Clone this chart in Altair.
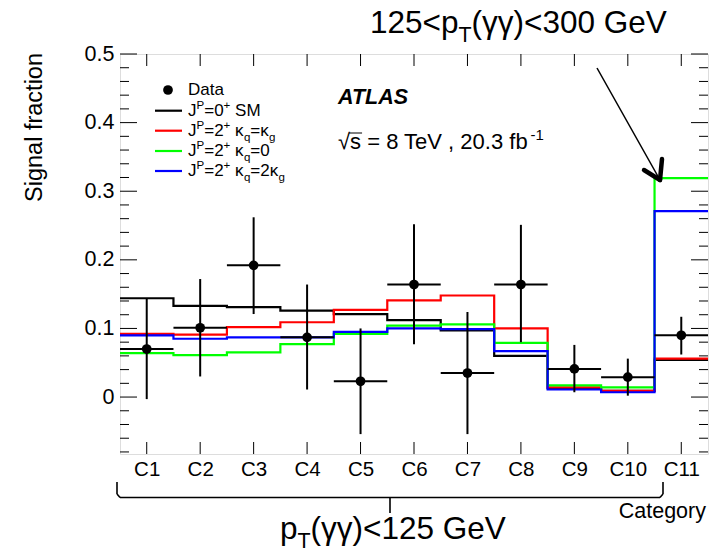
import altair as alt
import pandas as pd

FONT = "Liberation Sans"
W, H = 588, 400
PADL, PADT = 120, 54

# ---------------- data ----------------
categories = ["C1", "C2", "C3", "C4", "C5", "C6", "C7", "C8", "C9", "C10", "C11"]

data_val = [0.070, 0.101, 0.192, 0.087, 0.023, 0.164, 0.035, 0.164, 0.041, 0.029, 0.090]
data_hi = [0.144, 0.172, 0.262, 0.164, 0.100, 0.252, 0.124, 0.251, 0.076, 0.056, 0.117]
data_lo = [-0.003, 0.030, 0.121, 0.011, -0.054, 0.077, -0.054, 0.080, 0.007, 0.002, 0.062]

sm_0plus = [0.144, 0.133, 0.131, 0.126, 0.121, 0.112, 0.097, 0.060, 0.013, 0.009, 0.054]
spin2_kq_eq_kg = [0.092, 0.091, 0.102, 0.109, 0.127, 0.141, 0.148, 0.100, 0.014, 0.009, 0.056]
spin2_kq_0 = [0.064, 0.061, 0.065, 0.077, 0.092, 0.104, 0.106, 0.079, 0.017, 0.014, 0.319]
spin2_kq_2kg = [0.090, 0.085, 0.087, 0.087, 0.095, 0.100, 0.099, 0.067, 0.011, 0.007, 0.271]

y_major = [0.0, 0.1, 0.2, 0.3, 0.4, 0.5]
y_minor = [-0.08, -0.06, -0.04, -0.02, 0.02, 0.04, 0.06, 0.08, 0.12, 0.14, 0.16, 0.18,
           0.22, 0.24, 0.26, 0.28, 0.32, 0.34, 0.36, 0.38, 0.42, 0.44, 0.46, 0.48]
y_domain = [-0.083, 0.5]

n = len(categories)
x_centers = [i + 0.5 for i in range(n)]

# ---------------- scales / axes ----------------
xscale = alt.Scale(domain=[0, n], nice=False, zero=False)
yscale = alt.Scale(domain=y_domain, nice=False, zero=False)
xaxis = alt.Axis(values=x_centers, labelExpr="'C' + (datum.value + 0.5)", title=None,
                 ticks=False, domain=False, grid=False, labelFontSize=20.5, labelFont=FONT,
                 labelColor="black", labelPadding=5, labelOverlap=False, labelFlush=False)
yaxis = alt.Axis(values=y_major, format="~g", title=None, ticks=False, domain=False,
                 grid=False, labelFontSize=21.5, labelFont=FONT, labelColor="black",
                 labelPadding=6, labelOverlap=False, labelFlush=False)


def X(f):
    return alt.X(f, type="quantitative", scale=xscale, axis=xaxis)


def Y(f):
    return alt.Y(f, type="quantitative", scale=yscale, axis=yaxis)


layers = []

# ---------------- ticks (inside the frame) ----------------
maj = pd.DataFrame({"v": y_major})
mnr = pd.DataFrame({"v": y_minor})
xc = pd.DataFrame({"c": x_centers})
TK = dict(color="black", strokeWidth=1)
layers += [
    alt.Chart(maj).mark_rule(**TK).encode(y=Y("v"), x=alt.value(0), x2=alt.value(17)),
    alt.Chart(maj).mark_rule(**TK).encode(y=Y("v"), x=alt.value(W - 17), x2=alt.value(W)),
    alt.Chart(mnr).mark_rule(**TK).encode(y=Y("v"), x=alt.value(0), x2=alt.value(9)),
    alt.Chart(mnr).mark_rule(**TK).encode(y=Y("v"), x=alt.value(W - 9), x2=alt.value(W)),
    alt.Chart(xc).mark_rule(**TK).encode(x=X("c"), y=alt.value(H - 12), y2=alt.value(H)),
    alt.Chart(xc).mark_rule(**TK).encode(x=X("c"), y=alt.value(0), y2=alt.value(12)),
]

# ---------------- step histograms ----------------
series = [
    ("0+ SM", sm_0plus, "#000000"),
    ("2+ kq=kg", spin2_kq_eq_kg, "#ff0000"),
    ("2+ kq=0", spin2_kq_0, "#00ff00"),
    ("2+ kq=2kg", spin2_kq_2kg, "#0000ff"),
]
for name, vals, col in series:
    df = pd.DataFrame({"edge": list(range(n)) + [n], "v": list(vals) + [vals[-1]]})
    layers.append(
        alt.Chart(df).mark_line(interpolate="step-after", color=col, strokeWidth=2.2)
        .encode(x=X("edge"), y=Y("v"))
    )

# ---------------- data points ----------------
ddf = pd.DataFrame({
    "cat": categories, "xc": x_centers,
    "xl": [i for i in range(n)], "xr": [i + 1 for i in range(n)],
    "val": data_val, "lo": data_lo, "hi": data_hi,
})
layers += [
    alt.Chart(ddf).mark_rule(color="black", strokeWidth=2).encode(x=X("xc"), y=Y("lo"), y2="hi"),
    alt.Chart(ddf).mark_rule(color="black", strokeWidth=2).encode(x=X("xl"), x2="xr", y=Y("val")),
    alt.Chart(ddf).mark_circle(color="black", opacity=1, size=95).encode(x=X("xc"), y=Y("val")),
]

# ---------------- rich text helper ----------------
one = pd.DataFrame({"a": [0]})
WID = {
    "0": 556, "1": 556, "2": 556, "3": 556, "4": 556, "5": 556, "6": 556, "7": 556,
    "8": 556, "9": 556, ".": 278, ",": 278, " ": 278, "<": 584, "=": 584, "+": 584,
    "-": 333, "(": 333, ")": 333, "p": 556, "T": 611, "G": 778, "e": 556, "V": 667,
    "J": 500, "P": 667, "S": 667, "M": 833, "κ": 520, "q": 556, "g": 556, "γ": 500,
    "s": 500, "f": 278, "b": 556, "√": 549, "A": 667, "L": 556, "D": 722, "a": 556,
    "t": 278,
}


def tw(s, fs):
    return sum(WID.get(c, 556) for c in s) / 1000.0 * fs


def rich(segs, px, py, fs, **kw):
    out = []
    x = px - PADL
    for txt, kind in segs:
        f = fs if kind == "n" else fs * 0.68
        dy = {"n": 0.0, "sup": -0.40 * fs, "sub": 0.30 * fs}[kind]
        s = txt.lstrip(" ")
        x += tw(txt[: len(txt) - len(s)], f)
        out.append(
            alt.Chart(one).mark_text(text=s, align="left", baseline="alphabetic", font=FONT,
                                     fontSize=f, color="black", **kw)
            .encode(x=alt.value(x), y=alt.value(py - PADT + dy))
        )
        x += tw(s, f)
    return out


# ---------------- legend ----------------
LFS = 17
layers.append(alt.Chart(one).mark_circle(color="black", opacity=1, size=95)
              .encode(x=alt.value(168 - PADL), y=alt.value(90 - PADT)))
layers += rich([("Data", "n")], 188, 95, LFS)
leg_rows = [
    ("#000000", 110.7, [("J", "n"), ("P", "sup"), ("=0", "n"), ("+", "sup"), (" SM", "n")]),
    ("#ff0000", 130.7, [("J", "n"), ("P", "sup"), ("=2", "n"), ("+", "sup"), (" κ", "n"),
                        ("q", "sub"), ("=κ", "n"), ("g", "sub")]),
    ("#00ff00", 151.0, [("J", "n"), ("P", "sup"), ("=2", "n"), ("+", "sup"), (" κ", "n"),
                        ("q", "sub"), ("=0", "n")]),
    ("#0000ff", 171.0, [("J", "n"), ("P", "sup"), ("=2", "n"), ("+", "sup"), (" κ", "n"),
                        ("q", "sub"), ("=2κ", "n"), ("g", "sub")]),
]
for col, yy, segs in leg_rows:
    layers.append(alt.Chart(one).mark_rule(color=col, strokeWidth=2.2)
                  .encode(x=alt.value(155 - PADL), x2=alt.value(182 - PADL), y=alt.value(yy - PADT)))
    layers += rich(segs, 188, yy + 5, LFS)

# ---------------- ATLAS labels ----------------
layers += rich([("ATLAS", "n")], 338, 104, 21.5, fontWeight="bold", fontStyle="italic")
layers += rich([("√s = 8 TeV , 20.3 fb", "n"), ("-1", "sup")], 338, 149, 22)
# radical overbar over "s"
layers.append(alt.Chart(one).mark_rule(color="black", strokeWidth=1)
              .encode(x=alt.value(338 + tw("√", 22) - 1 - PADL),
                      x2=alt.value(338 + tw("√s", 22) + 1 - PADL),
                      y=alt.value(133 - PADT)))

# ---------------- axis titles ----------------
layers.append(alt.Chart(one).mark_text(text="Signal fraction", angle=270, align="right",
                                       baseline="middle", font=FONT, fontSize=23.5, color="black")
              .encode(x=alt.value(35 - PADL), y=alt.value(53 - PADT)))
layers.append(alt.Chart(one).mark_text(text="Category", align="right", baseline="middle",
                                       font=FONT, fontSize=21.5, color="black")
              .encode(x=alt.value(706 - PADL), y=alt.value(512 - PADT)))

# ---------------- top annotation + arrow ----------------
layers += rich([("125<p", "n"), ("T", "sub"), ("(γγ)<300 GeV", "n")], 370, 33, 31.5)
AR = dict(color="black")
layers += [
    alt.Chart(one).mark_rule(strokeWidth=1.5, **AR).encode(
        x=alt.value(597 - PADL), x2=alt.value(660 - PADL),
        y=alt.value(68 - PADT), y2=alt.value(180 - PADT)),
    alt.Chart(one).mark_rule(strokeWidth=4.5, strokeCap="round", **AR).encode(
        x=alt.value(644 - PADL), x2=alt.value(660 - PADL),
        y=alt.value(170 - PADT), y2=alt.value(180 - PADT)),
    alt.Chart(one).mark_rule(strokeWidth=4.5, strokeCap="round", **AR).encode(
        x=alt.value(662 - PADL), x2=alt.value(660 - PADL),
        y=alt.value(159 - PADT), y2=alt.value(180 - PADT)),
]

# ---------------- bottom brace + annotation ----------------
BR = dict(color="black", strokeWidth=1.6)
layers += [
    alt.Chart(one).mark_rule(**BR).encode(x=alt.value(117 - PADL), y=alt.value(482 - PADT), y2=alt.value(494 - PADT)),
    alt.Chart(one).mark_rule(**BR).encode(x=alt.value(120 - PADL), x2=alt.value(660 - PADL), y=alt.value(497.5 - PADT)),
    alt.Chart(one).mark_rule(**BR).encode(x=alt.value(663 - PADL), y=alt.value(482 - PADT), y2=alt.value(494 - PADT)),
    alt.Chart(one).mark_rule(**BR).encode(x=alt.value(390 - PADL), y=alt.value(497 - PADT), y2=alt.value(513 - PADT)),
    alt.Chart(one).mark_rule(**BR).encode(x=alt.value(117 - PADL), x2=alt.value(120 - PADL),
                                          y=alt.value(494 - PADT), y2=alt.value(497.5 - PADT)),
    alt.Chart(one).mark_rule(**BR).encode(x=alt.value(660 - PADL), x2=alt.value(663 - PADL),
                                          y=alt.value(497.5 - PADT), y2=alt.value(494 - PADT)),
]
layers += rich([("p", "n"), ("T", "sub"), ("(γγ)<125 GeV", "n")], 280, 539, 31.5)

chart = alt.layer(*layers).properties(
    width=W, height=H,
    padding={"left": PADL, "top": PADT, "right": 724 - PADL - W, "bottom": 557 - PADT - H},
    autosize=alt.AutoSizeParams(type="none"),
).configure_view(stroke="black", strokeWidth=1.2).configure(background="white")

chart.save("out.html", embed_options={"renderer": "svg", "actions": False})
